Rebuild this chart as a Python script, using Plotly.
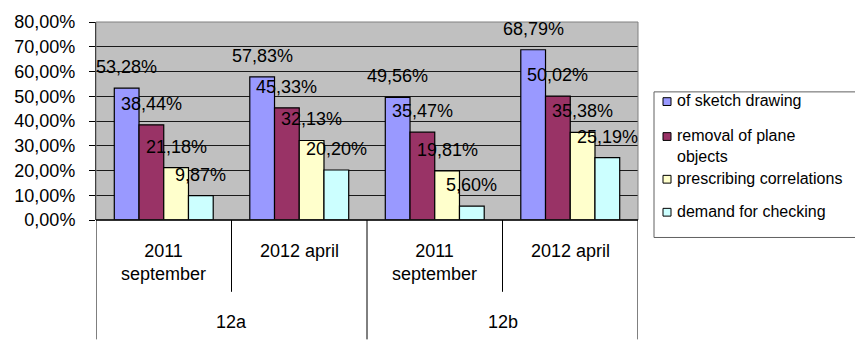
import plotly.graph_objects as go

# Categories: class group and survey period
groups = ["12a", "12a", "12b", "12b"]
periods = ["2011<br>september", "2012 april", "2011<br>september", "2012 april"]

# Share of students (%) for each task type
series_names = [
    "of sketch drawing",
    "removal of plane<br>objects",
    "prescribing correlations",
    "demand for checking",
]
sketch_drawing = [53.28, 57.83, 49.56, 68.79]
plane_removal = [38.44, 45.33, 35.47, 50.02]
prescribing = [21.18, 32.13, 19.81, 35.38]
checking = [9.87, 20.20, 5.60, 25.19]
series_values = [sketch_drawing, plane_removal, prescribing, checking]

y_ticks = [0, 10, 20, 30, 40, 50, 60, 70, 80]

colors = ["#9999FF", "#993366", "#FFFFCC", "#CCFFFF"]
FONT = "Liberation Sans, Arial, sans-serif"

W, H = 855, 341
L, R, T, B = 96, 217, 16, 121
PW, PH = W - L - R, H - T - B
BASE = H - B
BARGAP = 0.27


def px_x(px):
    return (px - L) / PW


def px_y(py):
    return (BASE - py) / PH


def pct(v):
    return f"{v:.2f}%".replace(".", ",")


keys = [f"{g} {p}" for g, p in zip(groups, periods)]
n = len(keys)
m = len(series_values)

fig = go.Figure()
for name, vals, col in zip(series_names, series_values, colors):
    fig.add_bar(
        x=keys,
        y=vals,
        name=name.replace("<br>", " "),
        marker=dict(color=col, line=dict(color="black", width=1.2)),
        showlegend=False,
    )

shapes = []
annotations = []

# value labels above each bar
bar_px = PW / n * (1 - BARGAP) / m
for i, vals in enumerate(series_values):
    for k, v in zip(keys, vals):
        annotations.append(dict(
            x=k, xref="x", y=v, yref="y", yanchor="middle", yshift=21,
            xshift=(i - (m - 1) / 2) * bar_px, text=pct(v), showarrow=False,
            font=dict(family=FONT, size=18, color="black")))

# plot frame and baseline
shapes.append(dict(type="rect", xref="paper", yref="paper", x0=0, x1=1, y0=0, y1=1,
                   line=dict(color="#808080", width=1)))
shapes.append(dict(type="line", xref="paper", yref="paper", x0=0, x1=1, y0=0, y1=0,
                   line=dict(color="black", width=1.5)))

# category dividers below the axis
outer_edges = [-0.5] + [i + 0.5 for i in range(n - 1) if groups[i] != groups[i + 1]] + [n - 0.5]
inner_edges = [i + 0.5 for i in range(n - 1) if groups[i] == groups[i + 1]]
for xe in outer_edges:
    shapes.append(dict(type="line", xref="x", yref="paper", x0=xe, x1=xe,
                       y0=0, y1=px_y(H + 2), line=dict(color="black", width=1)))
for xe in inner_edges:
    shapes.append(dict(type="line", xref="x", yref="paper", x0=xe, x1=xe,
                       y0=0, y1=px_y(294), line=dict(color="black", width=1)))

# period labels
for k, p in zip(keys, periods):
    annotations.append(dict(x=k, xref="x", y=px_y(240), yref="paper", yanchor="top",
                            text=p, showarrow=False, align="center",
                            font=dict(family=FONT, size=18, color="black")))

# group labels
seen = []
for g in groups:
    if g not in seen:
        seen.append(g)
for g in seen:
    idx = [i for i, gg in enumerate(groups) if gg == g]
    annotations.append(dict(x=sum(idx) / len(idx), xref="x", y=px_y(325), yref="paper",
                            yanchor="middle", text=g, showarrow=False,
                            font=dict(family=FONT, size=18, color="black")))

# legend box
shapes.append(dict(type="rect", xref="paper", yref="paper",
                   x0=px_x(654), x1=px_x(900), y0=px_y(238), y1=px_y(88),
                   fillcolor="white", line=dict(color="#606060", width=1)))
entry_y = [98, 134, 178, 212]
for name, col, cy in zip(series_names, colors, entry_y):
    shapes.append(dict(type="rect", xref="paper", yref="paper",
                       x0=px_x(663), x1=px_x(671), y0=px_y(cy + 4), y1=px_y(cy - 4),
                       fillcolor=col, line=dict(color="black", width=1)))
    annotations.append(dict(x=px_x(675), xref="paper", xanchor="left",
                            y=px_y(cy - 11.5), yref="paper", yanchor="top",
                            text=name, showarrow=False, align="left",
                            font=dict(family=FONT, size=16, color="black")))

fig.update_layout(
    width=W, height=H, autosize=False,
    margin=dict(l=L, r=R, t=T, b=B, pad=0),
    paper_bgcolor="white", plot_bgcolor="#C0C0C0",
    barmode="group", bargap=BARGAP, bargroupgap=0,
    font=dict(family=FONT, size=18, color="black"),
    xaxis=dict(type="category", range=[-0.5, n - 0.5], showticklabels=False,
               showgrid=False, zeroline=False, showline=False, ticks=""),
    yaxis=dict(range=[0, 80], tickvals=y_ticks, ticktext=[pct(v) for v in y_ticks],
               showgrid=True, gridcolor="#1a1a1a", gridwidth=1,
               ticks="outside", ticklen=6, tickcolor="black", tickwidth=1,
               showline=True, linecolor="black", linewidth=1, zeroline=False,
               ticklabelstandoff=10,
               tickfont=dict(family=FONT, size=18, color="black")),
    shapes=shapes,
    annotations=annotations,
)

fig.write_html("out.html")
